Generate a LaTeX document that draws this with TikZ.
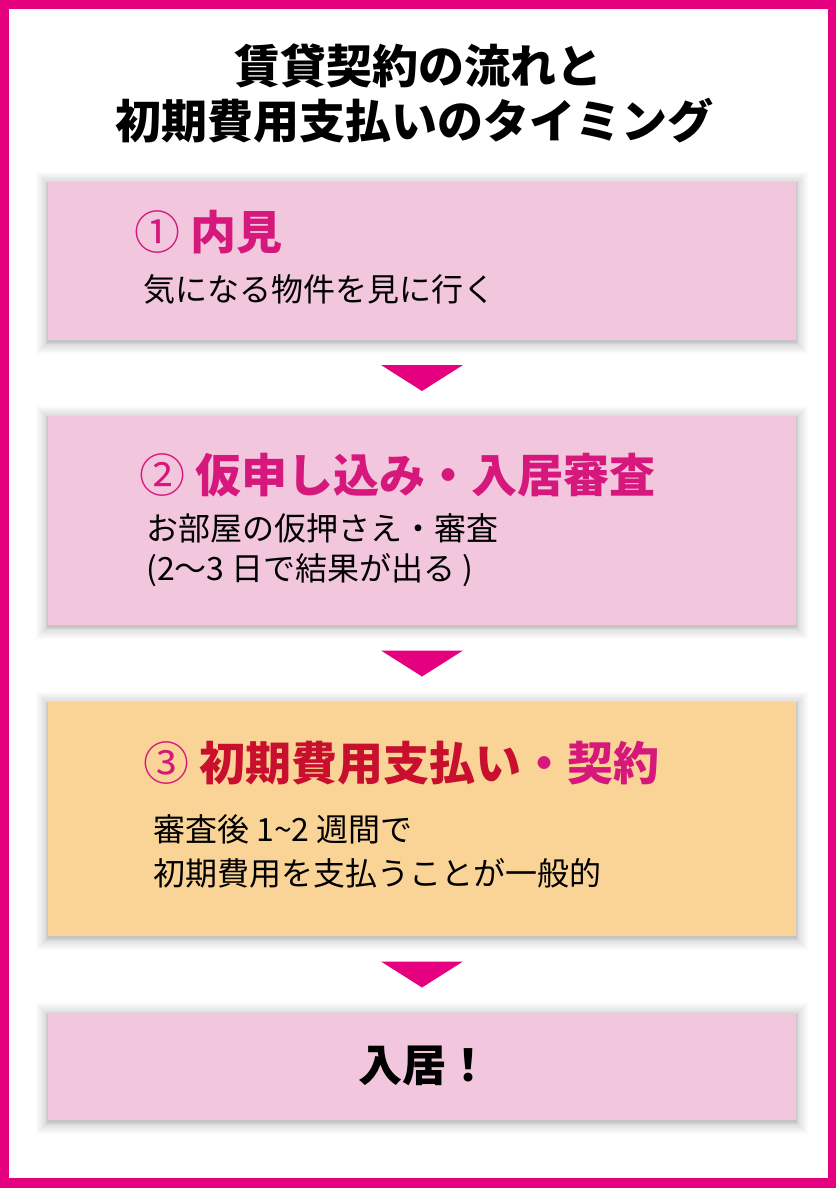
\documentclass[tikz,border=0pt]{standalone}
\usepackage{fontspec}
\setmainfont{Noto Sans CJK JP}
\usetikzlibrary{calc}
\definecolor{framec}{RGB}{228,0,127}
\definecolor{pinkbox}{RGB}{242,199,221}
\definecolor{orangebox}{RGB}{249,212,150}
\definecolor{titlec}{RGB}{214,24,124}
\definecolor{redc}{RGB}{200,16,46}
\pgfdeclarelayer{bottomlayer}
\pgfdeclarelayer{shadowlayer}
\pgfsetlayers{bottomlayer,shadowlayer,main}
\tikzset{
  box/.style={rectangle, minimum width=748pt, inner sep=0pt, draw=none},
  shadowpiece/.style={fill=black, fill opacity=0.02, draw=none},
  headtext/.style={anchor=west, inner sep=0pt, text=titlec, font=\fontsize{46}{50}\selectfont\bfseries},
  bodytext/.style={anchor=west, inner sep=0pt, text=black, font=\fontsize{32}{36}\selectfont},
  maintitle/.style={inner sep=0pt, text=black, font=\fontsize{46}{50}\selectfont\bfseries},
  tri/.style={fill=framec, draw=none}
}
\begin{document}
\begin{tikzpicture}[x=1pt,y=-1pt]
\useasboundingbox (0,0) rectangle (836,1188);
\begin{pgfonlayer}{bottomlayer}
\fill[framec] (0,0) rectangle (836,1188);
\fill[white] (9,9) rectangle (828,1178);
\end{pgfonlayer}

\node[maintitle] (h1) at (418,66) {賃貸契約の流れと};
\node[maintitle] (h2) at (414,121) {初期費用支払いのタイミング};

\node[box, fill=pinkbox, minimum height=158pt] (b1) at (422,261) {};
\node[box, fill=pinkbox, minimum height=209pt] (b2) at (422,520.5) {};
\node[box, fill=orangebox, minimum height=234pt] (b3) at (422,819) {};
\node[box, fill=pinkbox, minimum height=107pt] (b4) at (422,1066.5) {};

\begin{pgfonlayer}{shadowlayer}
\foreach \b in {b1,b2,b3,b4}{
  \foreach \i in {1,...,12}{
    \pgfmathsetmacro{\e}{0.085*\i*\i}
    \fill[shadowpiece] ([xshift=-\e pt, yshift=\e pt - 2pt]\b.north west) rectangle ([xshift=\e pt, yshift=-\e pt - 2pt]\b.south east);
  }
}
\end{pgfonlayer}

\node[headtext] (t1) at (134,232) {{\mdseries ①} 内見};
\node[bodytext] (s1) at (143,289) {気になる物件を見に行く};

\node[headtext] (t2) at (139,475) {{\mdseries ②} 仮申し込み・入居審査};
\node[bodytext] (s2a) at (146,528) {お部屋の仮押さえ・審査};
\node[bodytext] (s2b) at (146,570) {(2〜3 日で結果が出る )};

\node[headtext] (t3) at (143,763) {{\mdseries ③} \textcolor{redc}{初期費用支払い}・契約};
\node[bodytext] (s3a) at (153,829) {審査後 1\string~2 週間で};
\node[bodytext] (s3b) at (153,873) {初期費用を支払うことが一般的};

\node[maintitle, font=\fontsize{44}{48}\selectfont\bfseries] (t4) at (424,1066) {入居！};

\coordinate (a1) at ($(b1.south)!0.5!(b2.north)$);
\fill[tri] ([xshift=-41pt,yshift=13pt]a1) -- ([xshift=41pt,yshift=13pt]a1) -- ([yshift=-13pt]a1) -- cycle;
\coordinate (a2) at ($(b2.south)!0.5!(b3.north)$);
\fill[tri] ([xshift=-41pt,yshift=13pt]a2) -- ([xshift=41pt,yshift=13pt]a2) -- ([yshift=-13pt]a2) -- cycle;
\coordinate (a3) at ($(b3.south)!0.5!(b4.north)$);
\fill[tri] ([xshift=-41pt,yshift=13pt]a3) -- ([xshift=41pt,yshift=13pt]a3) -- ([yshift=-13pt]a3) -- cycle;
\end{tikzpicture}
\end{document}
